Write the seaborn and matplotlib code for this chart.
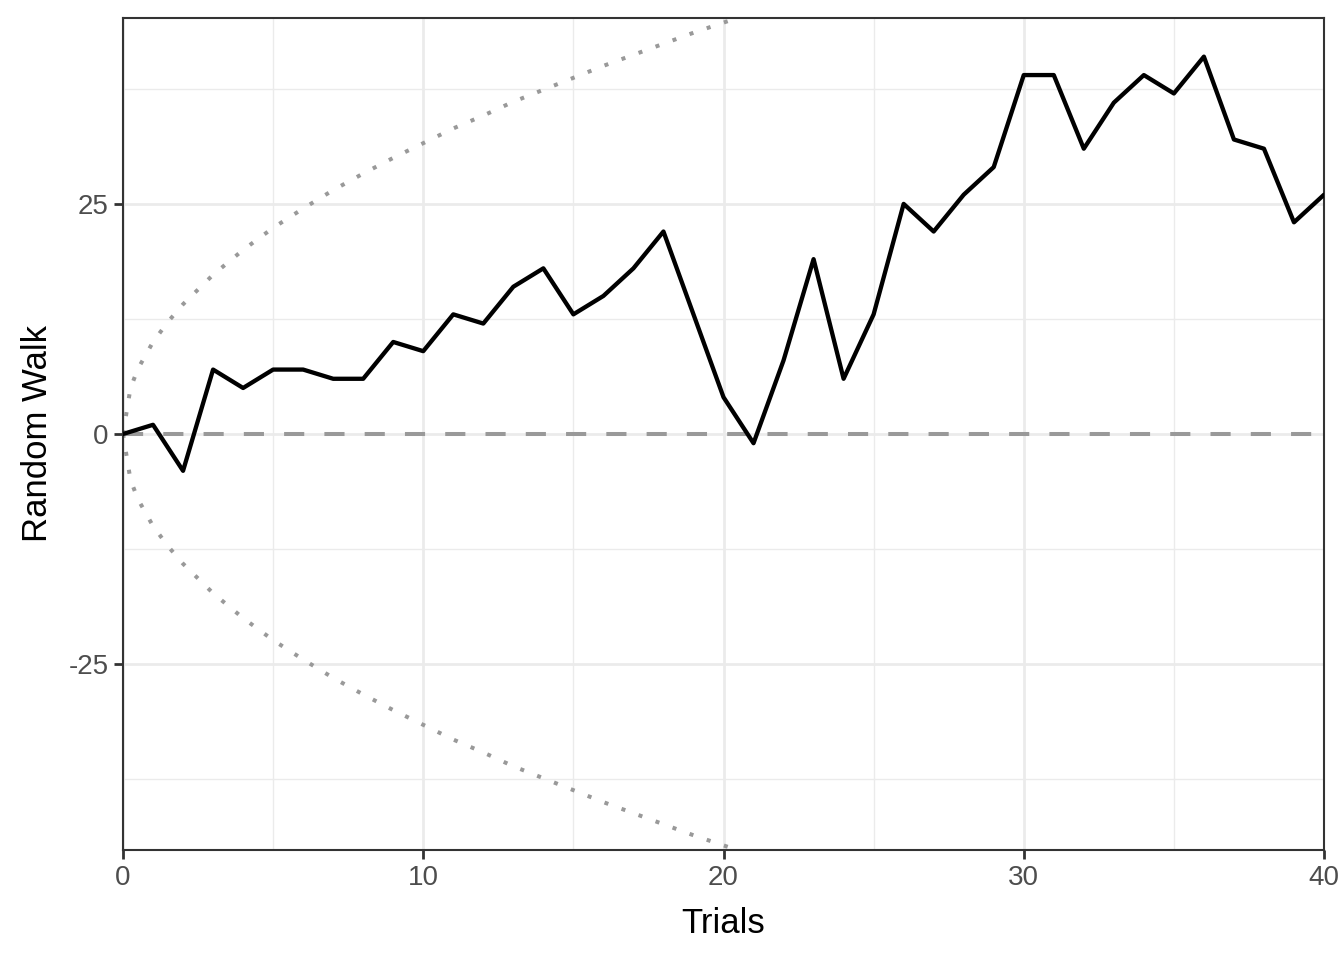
import numpy as np
import pandas as pd
import seaborn as sns
import matplotlib.pyplot as plt
from matplotlib.ticker import MultipleLocator

# random walk
trials = list(range(41))
walk = [0, 1, -4, 7, 5, 7, 7, 6, 6, 10, 9, 13, 12, 16, 18, 13, 15, 18, 22, 13,
        4, -1, 8, 19, 6, 13, 25, 22, 26, 29, 39, 39, 31, 36, 39, 37, 41, 32, 31, 23, 26]

# dotted envelope (upper half), read at each trial
bound_x = [0, 0.25, 0.5, 1, 1.5, 2, 3, 4, 5, 6, 7, 8, 9, 10, 11, 12, 13, 14, 15,
           16, 17, 18, 19, 20, 21, 22]
bound_y = [0, 5.0, 7.1, 10.0, 12.2, 14.1, 17.3, 20.0, 22.4, 24.5, 26.5, 28.3, 30.0,
           31.6, 33.2, 34.6, 36.1, 37.4, 38.7, 40.0, 41.2, 42.4, 43.6, 44.7, 45.8, 46.9]

df = pd.DataFrame({"Trials": trials, "Random Walk": walk})
env = pd.DataFrame({"x": bound_x, "upper": bound_y, "lower": [-v for v in bound_y]})

sns.set_style("white")
plt.rcParams["font.family"] = ["Liberation Sans", "DejaVu Sans"]
plt.rcParams["axes.unicode_minus"] = False

fig = plt.figure(figsize=(13.44, 9.6), dpi=100)
ax = fig.add_axes([123 / 1344, 1 - 850 / 960, (1324 - 123) / 1344, (850 - 18) / 960])

ax.xaxis.set_major_locator(MultipleLocator(10))
ax.xaxis.set_minor_locator(MultipleLocator(5))
ax.yaxis.set_major_locator(MultipleLocator(25))
ax.yaxis.set_minor_locator(MultipleLocator(12.5))
ax.grid(which="major", color="#EBEBEB", lw=2.0)
ax.grid(which="minor", color="#EBEBEB", lw=1.0)
ax.set_axisbelow(True)

ax.axhline(0, color="#999999", lw=2.9, ls=(0, (5, 5)), dash_capstyle="butt", zorder=2)
for col in ["upper", "lower"]:
    sns.lineplot(data=env, x="x", y=col, ax=ax, color="#999999", lw=2.9,
                 ls=(0, (1, 3.5)), zorder=2)
sns.lineplot(data=df, x="Trials", y="Random Walk", ax=ax, color="black", lw=3.1, zorder=3)

ax.set_xlim(0, 40)
ax.set_ylim(-45.2, 45.2)
ax.set_yticks([-25, 0, 25])
ax.set_xticks([0, 10, 20, 30, 40])

for s in ax.spines.values():
    s.set_color("#333333")
    s.set_linewidth(1.5)

ax.tick_params(axis="both", which="major", length=6.5, width=2, color="#333333",
               labelsize=20, labelcolor="#4D4D4D", bottom=True, left=True, pad=4)
ax.tick_params(which="minor", length=0)
ax.set_xlabel("Trials", fontsize=25, color="black", labelpad=12)
ax.set_ylabel("Random Walk", fontsize=25, color="black", labelpad=10)

fig.savefig("out.png", dpi=100)
